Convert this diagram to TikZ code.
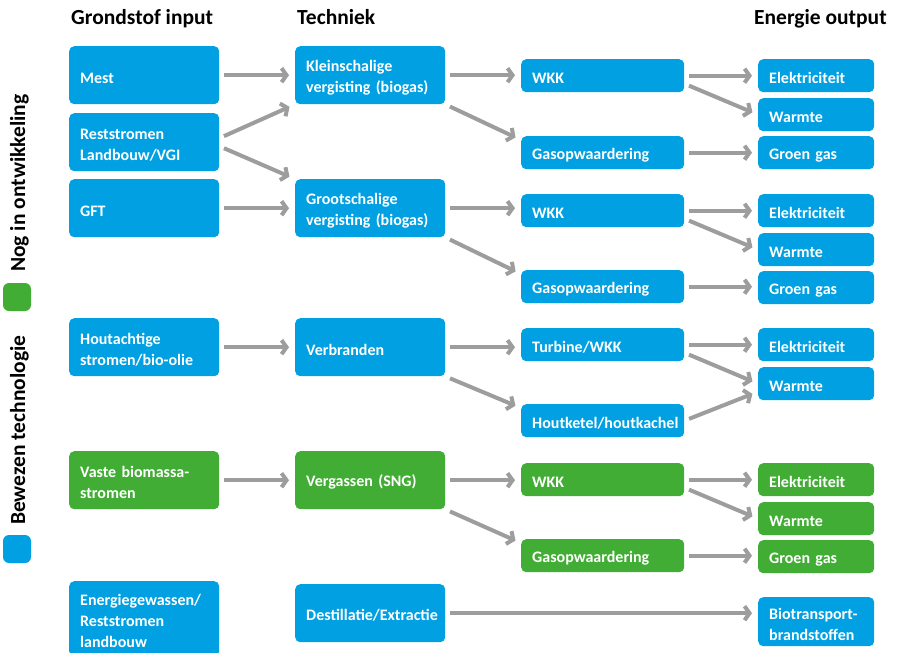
\documentclass[tikz,border=0pt]{standalone}
\usepackage{fontspec}
\setmainfont{Carlito}
\usepackage{tikz}
\usetikzlibrary{arrows.meta, calc}

\definecolor{rijksblauw}{RGB}{0,160,226}
\definecolor{rijksgroen}{RGB}{66,173,53}
\definecolor{pijlgrijs}{RGB}{157,157,157}

\begin{document}
\begin{tikzpicture}
      [
        x=1pt, y=-1pt,
        blok/.style={rounded corners=5pt, fill=rijksblauw, text=white,
          font=\bfseries\fontsize{16}{21}\selectfont, inner xsep=11pt,
          inner ysep=0pt, align=left, anchor=north west,
          execute at begin node={\rule{0pt}{16pt}}},
        groen/.style={fill=rijksgroen},
        breed/.style={text width=128pt, minimum height=58pt},
        midden/.style={text width=141pt, minimum height=33pt},
        smal/.style={text width=94pt, minimum height=33pt},
        kop/.style={font=\bfseries\fontsize{21.5}{24}\selectfont, anchor=base west, inner sep=0pt},
        pijl/.style={draw=pijlgrijs, line width=4pt,
          -{Straight Barb[length=5pt,width=14pt]}, shorten <=5pt, shorten >=6pt}
      ]
      \useasboundingbox (0,0) rectangle (897,653);
      \clip (0,0) rectangle (897,653);
      % headings
      \node [kop] (h1) at (71,24)  {Grondstof input};
      \node [kop] (h2) at (297,24) {Techniek};
      \node [kop] (h3) at (754,24) {Energie output};
      % legend
      \fill [rijksgroen, rounded corners=6pt] (3,283) rectangle (31,311);
      \fill [rijksblauw, rounded corners=6pt] (3,535) rectangle (31,563);
      \node [kop, rotate=90, font=\bfseries\fontsize{21.5}{24}\selectfont] (nog) at (25,272) {Nog in ontwikkeling};
      \node [kop, rotate=90, font=\bfseries\fontsize{21.5}{24}\selectfont] (bew) at (25,525) {Bewezen technologie};
      % grondstof input
      \node [blok, breed] (mest)  at (69,46)  {Mest};
      \node [blok, breed] (rest)  at (69,113) {Reststromen\\Landbouw/VGI};
      \node [blok, breed] (gft)   at (69,179) {GFT};
      \node [blok, breed] (hout)  at (69,318) {Houtachtige\\stromen/bio-olie};
      \node [blok, breed, groen] (vaste) at (69,451) {Vaste biomassa-\\stromen};
      \node [blok, breed, minimum height=75pt] (ener) at (69,581) {Energiegewassen/\\Reststromen\\landbouw};
      % techniek
      \node [blok, breed] (klein) at (295,46)  {Kleinschalige\\vergisting (biogas)};
      \node [blok, breed] (groot) at (295,179) {Grootschalige\\vergisting (biogas)};
      \node [blok, breed] (verbr) at (295,318) {Verbranden};
      \node [blok, breed, groen] (verg) at (295,451) {Vergassen (SNG)};
      \node [blok, breed] (dest)  at (295,584) {Destillatie/Extractie};
      % omzetting
      \node [blok, midden] (wkka)  at (521,59)  {WKK};
      \node [blok, midden] (gasa)  at (521,136) {Gasopwaardering};
      \node [blok, midden] (wkkb)  at (521,194) {WKK};
      \node [blok, midden] (gasb)  at (521,270) {Gasopwaardering};
      \node [blok, midden] (turb)  at (521,328) {Turbine/WKK};
      \node [blok, midden] (ketel) at (521,404) {Houtketel/houtkachel};
      \node [blok, midden, groen] (wkkc) at (521,463) {WKK};
      \node [blok, midden, groen] (gasc) at (521,539) {Gasopwaardering};
      % energie output
      \node [blok, smal] (elea)   at (758,59)  {Elektriciteit};
      \node [blok, smal] (warma)  at (758,98)  {Warmte};
      \node [blok, smal] (groena) at (758,136) {Groen gas};
      \node [blok, smal] (eleb)   at (758,194) {Elektriciteit};
      \node [blok, smal] (warmb)  at (758,233) {Warmte};
      \node [blok, smal] (groenb) at (758,271) {Groen gas};
      \node [blok, smal] (elec)   at (758,328) {Elektriciteit};
      \node [blok, smal] (warmc)  at (758,367) {Warmte};
      \node [blok, smal, groen] (eled)   at (758,463) {Elektriciteit};
      \node [blok, smal, groen] (warmd)  at (758,502) {Warmte};
      \node [blok, smal, groen] (groend) at (758,540) {Groen gas};
      \node [blok, smal, minimum height=49pt] (bio) at (758,597) {Biotransport-\\brandstoffen};
      % straight arrows
      \foreach \a/\b in {mest/klein, gft/groot, hout/verbr, vaste/verg, dest/bio,
                         klein/wkka, groot/wkkb, verbr/turb, verg/wkkc,
                         wkka/elea, gasa/groena, wkkb/eleb, gasb/groenb,
                         turb/elec, wkkc/eled, gasc/groend} {
          \draw [pijl] (\a.east) -- (\a.east -| \b.west);
      }
      % sloping arrows
      \draw [pijl] ([yshift=4pt]rest.east) -- (klein.south west);
      \draw [pijl] ([yshift=-4pt]rest.east) -- (groot.north west);
      \foreach \a/\b in {klein/gasa, groot/gasb, verbr/ketel, verg/gasc} {
          \draw [pijl] (\a.south east) -- ([yshift=-4pt]\b.north west);
      }
      \foreach \a/\b in {wkka/warma, wkkb/warmb, turb/warmc, wkkc/warmd} {
          \draw [pijl] ([yshift=-8pt]\a.east) -- (\b.west);
      }
      \draw [pijl] (ketel.east) -- ([yshift=-8pt]warmc.west);
    \end{tikzpicture}
\end{document}
